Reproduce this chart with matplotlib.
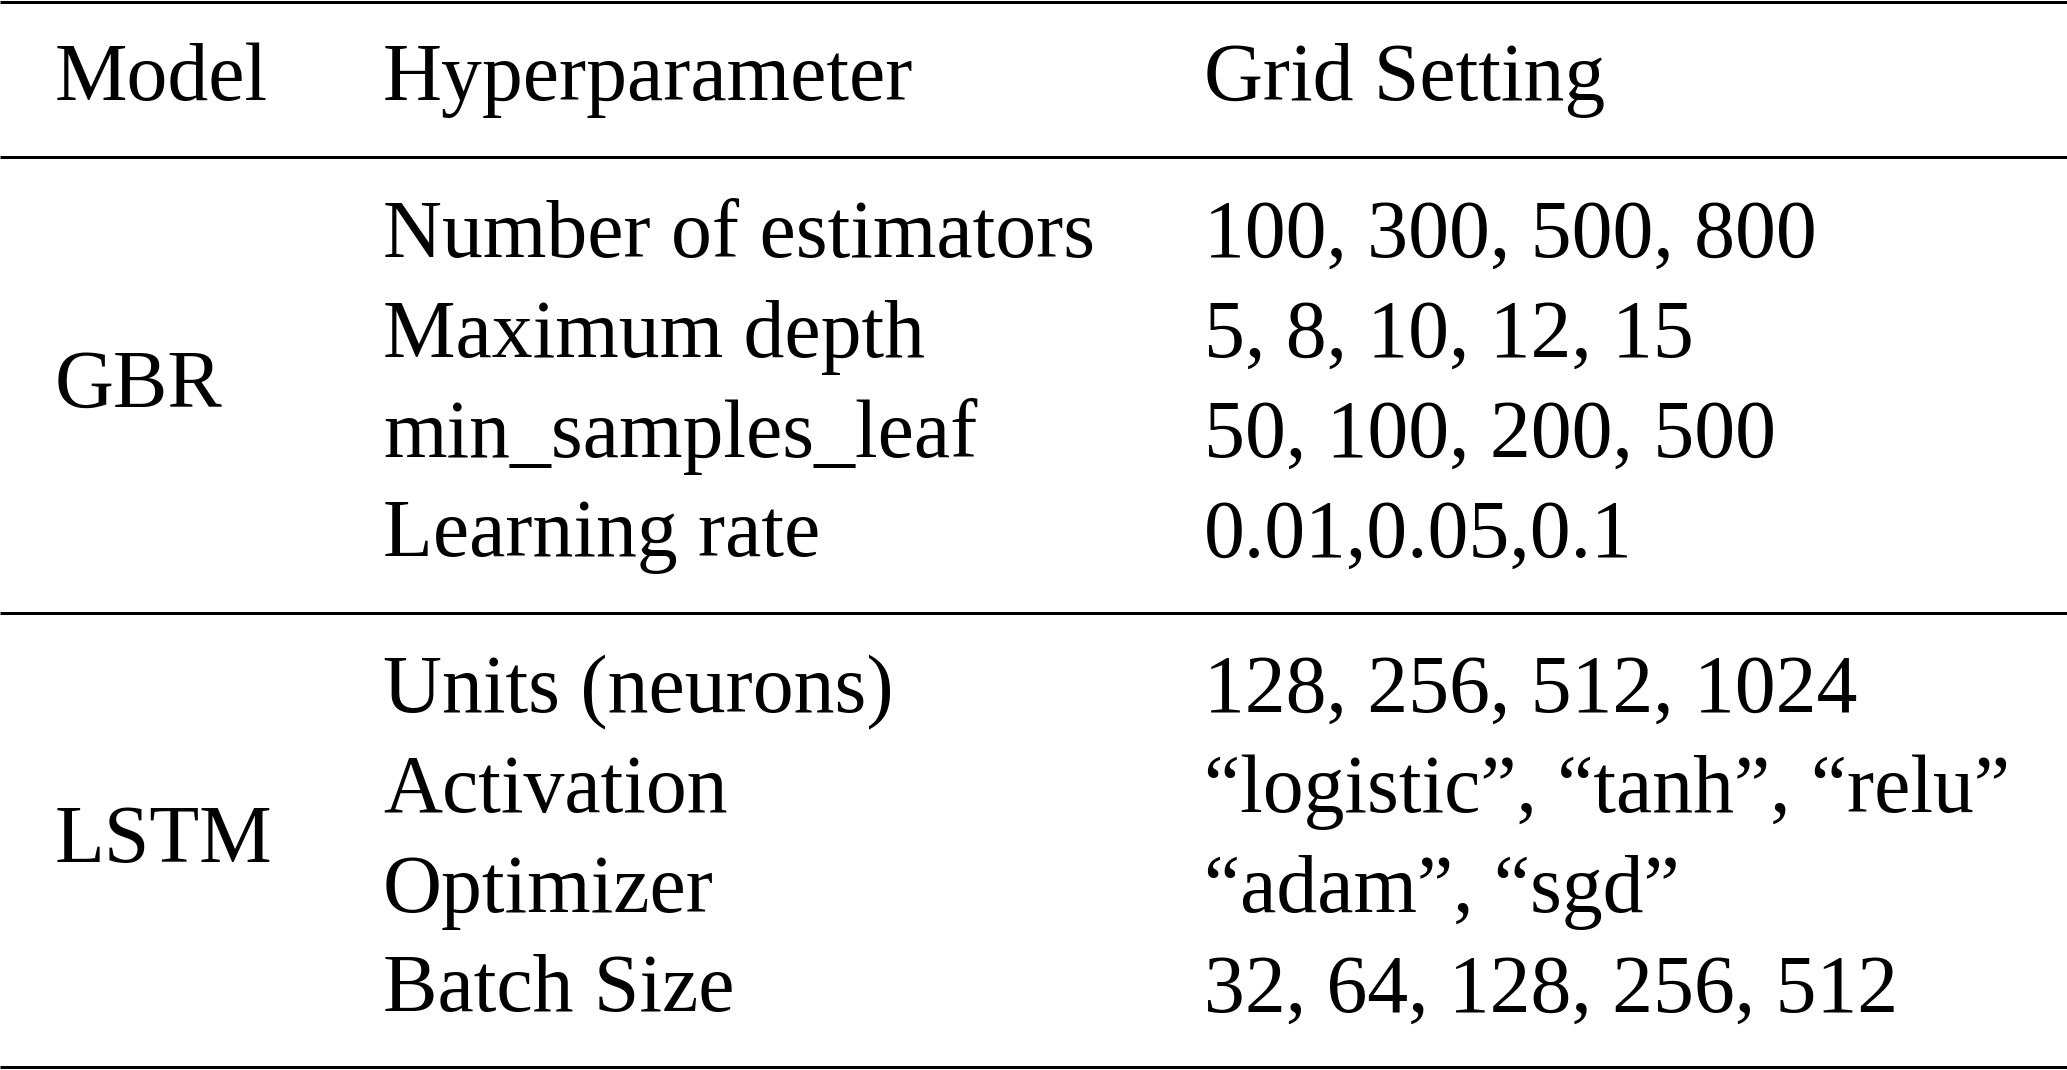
import matplotlib
matplotlib.use("Agg")
import matplotlib.pyplot as plt

# ---- data ----
headers = ["Model", "Hyperparameter", "Grid Setting"]
models = ["GBR", "LSTM"]
gbr_params = ["Number of estimators", "Maximum depth", "min_samples_leaf", "Learning rate"]
gbr_grid = ["100, 300, 500, 800", "5, 8, 10, 12, 15", "50, 100, 200, 500", "0.01,0.05,0.1"]
lstm_params = ["Units (neurons)", "Activation", "Optimizer", "Batch Size"]
lstm_grid = ["128, 256, 512, 1024", "\u201clogistic\u201d, \u201ctanh\u201d, \u201crelu\u201d",
             "\u201cadam\u201d, \u201csgd\u201d", "32, 64, 128, 256, 512"]
sections = [(models[0], gbr_params, gbr_grid), (models[1], lstm_params, lstm_grid)]

# ---- layout (pixels) ----
W, H = 2067, 1070
fig = plt.figure(figsize=(W / 100, H / 100), dpi=100)
ax = fig.add_axes([0, 0, 1, 1])
ax.set_xlim(0, W)
ax.set_ylim(H, 0)
ax.axis("off")

plt.rcParams["font.family"] = ["Liberation Serif", "DejaVu Serif"]
fs = 58.8
col_x = [55, 383, 1204]
lw = 3.0 * 72 / 100

def txt(x, y, s):
    ax.text(x, y, s, fontsize=fs, va="baseline", ha="left",
            family=["Liberation Serif", "DejaVu Serif"], color="black")

# rules
for y in [1.5, 157, 612.5, 1067]:
    ax.plot([0, W], [y, y], color="black", lw=lw, solid_capstyle="butt")

# header
for x, h in zip(col_x, headers):
    txt(x, 100, h)

row_pitch = 99.8
section_first = [257, 712]
for (model, params, grid), y0 in zip(sections, section_first):
    ys = [y0 + i * row_pitch for i in range(len(params))]
    txt(col_x[0], (ys[1] + ys[2]) / 2, model)
    for y, p, g in zip(ys, params, grid):
        txt(col_x[1], y, p)
        txt(col_x[2], y, g)

fig.savefig("out.png", dpi=100, facecolor="white")
